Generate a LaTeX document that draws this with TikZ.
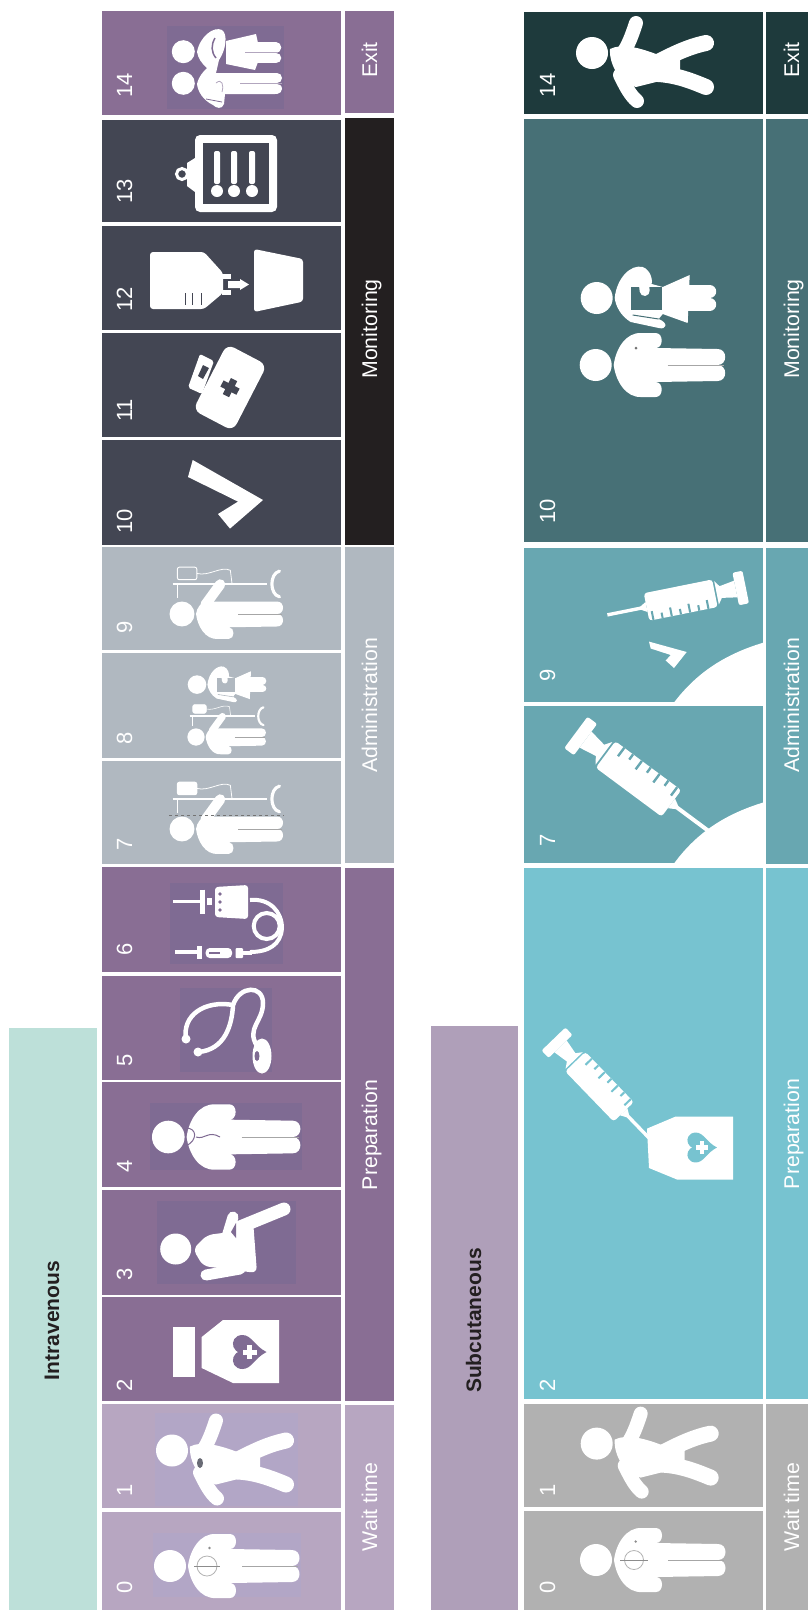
\documentclass[tikz,border=0pt]{standalone}
\usepackage{fontspec}
\setmainfont{Liberation Sans}
\usepackage{xcolor}
\usetikzlibrary{positioning}

\definecolor{ivtitle}{HTML}{BDE0D9}
\definecolor{ivwait}{HTML}{B7A6C1}
\definecolor{ivprep}{HTML}{896E94}
\definecolor{ivadmin}{HTML}{B0B8C0}
\definecolor{ivmon}{HTML}{434653}
\definecolor{ivmonlab}{HTML}{231F20}
\definecolor{ivpatch}{HTML}{7F6B93}
\definecolor{ivwaitpatch}{HTML}{B2A6C6}
\definecolor{sctitle}{HTML}{AF9FB9}
\definecolor{scwait}{HTML}{B1B1B1}
\definecolor{scprep}{HTML}{77C3D0}
\definecolor{scadmin}{HTML}{68A7B1}
\definecolor{scmon}{HTML}{477076}
\definecolor{scexit}{HTML}{1E3A3C}
\definecolor{inkline}{HTML}{231F20}

\newcommand{\personicon}[3]{
  \begin{scope}[shift={(#1,#2)},scale=#3]
    \fill[white] (0,0) circle (16);
    \fill[white] (18,0) .. controls (20,-16) and (30,-33) .. (46,-32) -- (60,-32)
      .. controls (68,-32) and (68,-17) .. (60,-17) -- (122,-16)
      .. controls (132,-16) and (132,0) .. (122,0)
      .. controls (132,0) and (132,16) .. (122,16) -- (60,17)
      .. controls (68,17) and (68,32) .. (60,32) -- (46,32)
      .. controls (30,33) and (20,16) .. (18,0) -- cycle;
    \draw[black!35,line width=#3*0.7pt] (72,0) -- (128,0);
  \end{scope}
}
\newcommand{\patienticon}[4]{
  \begin{scope}[shift={(#1,#2)},scale=#3]
    \draw[white,line width=#3*3.2pt] (-12,-38.5) -- (109,-38.5);
    \draw[white,line width=#3*4pt,line cap=round] (125,-55) .. controls (112,-52) and (112,-25) .. (125,-22);
    \draw[white,fill=#4,line width=#3*1.2pt,rounded corners=2] (-6,-60) rectangle (19,-44);
    \draw[white,line width=#3*1pt] (19,-52) .. controls (35,-48) and (50,-62) .. (62,-56) -- (64,-40);
    \draw[white,line width=#3*1pt] (-6,-38) -- (-6,-20);
    \fill[white] (0,0) circle (16);
    \fill[white] (18,0) .. controls (19,-8) and (24,-15) .. (32,-16) -- (122,-16)
      .. controls (132,-16) and (132,0) .. (122,0)
      .. controls (132,0) and (132,16) .. (122,16) -- (60,17)
      .. controls (68,17) and (68,32) .. (60,32) -- (46,32)
      .. controls (30,33) and (20,16) .. (18,0) -- cycle;
    \draw[white,line width=#3*13pt,line cap=round] (30,-12) -- (49,-38);
    \draw[black!35,line width=#3*0.7pt] (72,0) -- (128,0);
  \end{scope}
}
\newcommand{\nurseicon}[4]{
  \begin{scope}[shift={(#1,#2)},scale=#3]
    \fill[white] (0,0) circle (16);
    \fill[white] (18,0) .. controls (20,-20) and (34,-34) .. (46,-31)
      .. controls (54,-28) and (56,-18) .. (55,-14) -- (66,-11) -- (93,-23) -- (91,25)
      -- (66,16) -- (62,21) .. controls (72,25) and (70,32) .. (62,30)
      -- (34,24) .. controls (24,18) and (19,8) .. (18,0) -- cycle;
    \draw[white,line width=#3*13pt,line cap=round] (92,-6.5) -- (113,-6.5);
    \draw[white,line width=#3*13pt,line cap=round] (92,6.5) -- (113,6.5);
    \fill[#4] (34,-11) rectangle (65,12);
    \draw[white,line width=#3*10pt,line cap=round] (46,-24) -- (48,-7);
    \draw[#4,line width=#3*1pt] (36,17) -- (62,21);
  \end{scope}
}
\newcommand{\walkicon}[3]{
  \begin{scope}[shift={(#1,#2)},scale=#3]
    \fill[white] (0,0) circle (16);
    \fill[white] (18,-4) .. controls (30,-10) and (48,-5) .. (64,1) -- (88,4) -- (88,24) -- (64,29)
      -- (44,34) .. controls (28,30) and (17,12) .. (18,-4) -- cycle;
    \draw[white,line width=#3*14pt,line cap=round] (28,4) .. controls (36,-6) and (40,-18) .. (44,-30);
    \draw[white,line width=#3*14pt,line cap=round] (28,22) .. controls (34,34) and (38,42) .. (45,48);
    \draw[white,line width=#3*16pt,line cap=round] (66,9) .. controls (80,2) and (95,-6) .. (114,-10);
    \draw[white,line width=#3*16pt,line cap=round] (66,21) .. controls (82,22) and (95,26) .. (114,34);
  \end{scope}
}
\newcommand{\syringeicon}[5]{
  \begin{scope}[shift={(#1,#2)},rotate=#3,scale=#4]
    \fill[white,rounded corners=2] (-6,-19.5) rectangle (6,19.5);
    \fill[white] (6,-10) -- (24,-7) -- (29,-14) -- (29,14) -- (24,7) -- (6,10) -- cycle;
    \fill[white,rounded corners=3] (31,-16.5) rectangle (113,16.5);
    \fill[white] (113,-6) -- (120,-2) -- (120,2) -- (113,6) -- cycle;
    \draw[white,line width=#4*4pt] (118,0) -- (160,0);
    \draw[#5,line width=#4*2.4pt] (42,-16.5) -- (42,-6) (53,-16.5) -- (53,-10) (64,-16.5) -- (64,-6) (75,-16.5) -- (75,-10) (86,-16.5) -- (86,-6) (97,-16.5) -- (97,-10) (108,-16.5) -- (108,-6);
  \end{scope}
}
\newcommand{\heartmark}[4]{
  \begin{scope}[shift={(#1,#2)},scale=#3]
    \fill[#4] (17,0) .. controls (5,-6) and (2,-17) .. (-7,-17) .. controls (-15,-17) and (-18,-10) .. (-16,-5)
      .. controls (-15,-2) and (-12,0) .. (-11,0) .. controls (-12,0) and (-15,2) .. (-16,5)
      .. controls (-18,10) and (-15,17) .. (-7,17) .. controls (2,17) and (5,6) .. (17,0) -- cycle;
    \fill[white] (-7,-2.5) rectangle (7,2.5);
    \fill[white] (-2.5,-7) rectangle (2.5,7);
  \end{scope}
}

\begin{document}
\begin{tikzpicture}[
  x=1pt, y=-1pt,
  numtext/.style={text=white, rotate=90, anchor=base west, inner sep=0pt, font=\fontsize{22}{22}\selectfont},
  labtext/.style={text=white, rotate=90, anchor=base, inner sep=0pt, font=\fontsize{21.3}{22}\selectfont},
  headtext/.style={text=inkline, rotate=90, anchor=base, inner sep=0pt, font=\bfseries\fontsize{21}{21}\selectfont}
]
  \useasboundingbox (0,0) rectangle (808,1610);

  \fill[ivtitle] (9,1028) rectangle (97,1610);
  \fill[sctitle] (431,1026) rectangle (518,1610);
  \node[headtext] (ivhead) at (59,1320.5) {Intravenous};
  \node[headtext] (schead) at (481,1320.5) {Subcutaneous};

  \fill[ivprep] (102,11) rectangle (341,115);
  \fill[ivmon] (102,120) rectangle (341,222);
  \fill[ivmon] (102,226) rectangle (341,330);
  \fill[ivmon] (102,333) rectangle (341,436.7);
  \fill[ivmon] (102,440) rectangle (341,544.7);
  \fill[ivadmin] (102,547) rectangle (341,650);
  \fill[ivadmin] (102,653) rectangle (341,758);
  \fill[ivadmin] (102,761) rectangle (341,864);
  \fill[ivprep] (102,867) rectangle (341,971.5);
  \fill[ivprep] (102,976) rectangle (341,1080);
  \fill[ivprep] (102,1082) rectangle (341,1187);
  \fill[ivprep] (102,1190) rectangle (341,1294.5);
  \fill[ivprep] (102,1297) rectangle (341,1401);
  \fill[ivwait] (102,1404) rectangle (341,1508);
  \fill[ivwait] (102,1512) rectangle (341,1610);

  \fill[ivprep] (345,11) rectangle (394,113);
  \fill[ivmonlab] (345,118) rectangle (394,545);
  \fill[ivadmin] (345,547) rectangle (394,863);
  \fill[ivprep] (345,868) rectangle (394,1401);
  \fill[ivwait] (345,1405) rectangle (394,1610);

  \fill[ivpatch] (167,26) rectangle (284,109);
  \fill[ivpatch] (170,882.6) rectangle (283,963.5);
  \fill[ivpatch] (180,987.6) rectangle (272,1072);
  \fill[ivpatch] (150,1103) rectangle (302,1170);
  \fill[ivpatch] (157,1201) rectangle (296,1284);
  \fill[ivwaitpatch] (155,1412.6) rectangle (298,1505.6);
  \fill[ivwaitpatch] (153,1533) rectangle (301,1597);

  \node[numtext] (ivn14) at (132,98) {14};
  \node[numtext] (ivn13) at (132,204) {13};
  \node[numtext] (ivn12) at (132,312) {12};
  \node[numtext] (ivn11) at (132,422) {11};
  \node[numtext] (ivn10) at (132,534) {10};
  \node[numtext] (ivn9) at (132,634) {9};
  \node[numtext] (ivn8) at (132,745) {8};
  \node[numtext] (ivn7) at (132,851) {7};
  \node[numtext] (ivn6) at (132,956) {6};
  \node[numtext] (ivn5) at (132,1067) {5};
  \node[numtext] (ivn4) at (132,1173) {4};
  \node[numtext] (ivn3) at (132,1281) {3};
  \node[numtext] (ivn2) at (132,1392) {2};
  \node[numtext] (ivn1) at (132,1497) {1};
  \node[numtext] (ivn0) at (132,1594) {0};

  \node[labtext] (ivexit) at (377,60) {Exit};
  \node[labtext] (ivmonit) at (377,329) {Monitoring};
  \node[labtext] (ivadm) at (377,705.5) {Administration};
  \node[labtext] (ivpre) at (377,1135) {Preparation};
  \node[labtext] (ivwt) at (377,1507) {Wait time};

  \fill[scexit] (524,12) rectangle (763,114);
  \fill[scmon] (524,119) rectangle (763,542);
  \fill[scadmin] (524,548) rectangle (763,702);
  \fill[scadmin] (524,705.6) rectangle (763,863);
  \fill[scprep] (524,868) rectangle (763,1399);
  \fill[scwait] (524,1404) rectangle (763,1506.6);
  \fill[scwait] (524,1511) rectangle (763,1610);

  \fill[scexit] (766,12) rectangle (808,114);
  \fill[scmon] (766,119) rectangle (808,542);
  \fill[scadmin] (766,548) rectangle (808,863.7);
  \fill[scprep] (766,868) rectangle (808,1399);
  \fill[scwait] (766,1404) rectangle (808,1610);

  \fill[white] (763.5,642.6) .. controls (722,655) and (695,675) .. (674,702.5) -- (763.5,702.5) -- cycle;
  \fill[white] (763.5,802.4) .. controls (722,815) and (695,835) .. (674,863.5) -- (763.5,863.5) -- cycle;

  \node[numtext] (scn14) at (555,98) {14};
  \node[numtext] (scn10) at (555,523.5) {10};
  \node[numtext] (scn9) at (555,682) {9};
  \node[numtext] (scn7) at (555,847) {7};
  \node[numtext] (scn2) at (555,1392) {2};
  \node[numtext] (scn1) at (555,1497) {1};
  \node[numtext] (scn0) at (555,1594) {0};

  \node[labtext] (scexitl) at (799,60) {Exit};
  \node[labtext] (scmonit) at (799,329) {Monitoring};
  \node[labtext] (scadm) at (799,705.5) {Administration};
  \node[labtext] (scpre) at (799,1134) {Preparation};
  \node[labtext] (scwt) at (799,1507) {Wait time};

  \fill[white] (183.3,51.7) circle (11.5);
  \fill[white] (183.3,83.3) circle (11.5);
  \fill[white] (197,52) .. controls (200,36) and (214,26) .. (222,30) .. controls (228,34) and (226,50) .. (219,60)
    -- (216,73) -- (275,73) -- (275,94) -- (225,94) -- (224,104)
    .. controls (222,110) and (216,108) .. (213,105) .. controls (203,100) and (198,92) .. (197,84)
    .. controls (199,76) and (203,72) .. (207,68) .. controls (202,64) and (198,58) .. (197,52) -- cycle;
  \fill[white] (226,41) -- (256,34) -- (258,43) -- (258,62) -- (255,70) -- (226,64) -- cycle;
  \draw[white,line width=10.5pt,line cap=round] (256,47.5) -- (276,47.5);
  \draw[white,line width=10.5pt,line cap=round] (256,58) -- (276,58);
  \draw[white,line width=10pt,line cap=round] (274,78) -- (277,78);
  \draw[white,line width=10pt,line cap=round] (274,88.5) -- (277,88.5);
  \draw[ivpatch,line width=1.5pt] (215,38) .. controls (211,45) and (211,52) .. (216,58);
  \draw[ivpatch,line width=0.8pt] (206,99) -- (222,102);
  \draw[ivpatch!60!white,line width=0.8pt] (240,83.5) -- (282,83.5);
  \draw[ivpatch!60!white,line width=0.8pt] (245,52.5) -- (278,52.5);
  \draw[ivpatch!60!white,line width=0.8pt] (216,83) .. controls (222,78) and (224,85) .. (222,92);

  \fill[white,rounded corners=5] (195,135) rectangle (277,212);
  \fill[white] (187,163) -- (195,158) -- (195,192) -- (187,186) -- cycle;
  \draw[white,line width=3pt] (182,174) circle (5.5);
  \fill[ivmon] (203,143) rectangle (269,203.5);
  \fill[white,rounded corners=2] (214,151) rectangle (220,184);
  \fill[white,rounded corners=2] (231,151) rectangle (237,184);
  \fill[white,rounded corners=2] (249,151) rectangle (255,184);
  \fill[white] (217,191) circle (6);
  \fill[white] (234,191) circle (6);
  \fill[white] (252,191) circle (6);

  \fill[white,rounded corners=3] (150,252) -- (204,252) -- (223,273) -- (223,293) -- (204,309) -- (150,309) -- cycle;
  \fill[white] (222,274) rectangle (231,279);
  \fill[white] (222,290) rectangle (231,295);
  \fill[white] (228,281) -- (240,281) -- (240,279) -- (249,284.5) -- (240,290) -- (240,288) -- (228,288) -- cycle;
  \fill[white,rounded corners=3] (254,249) -- (303,259) -- (303,301.6) -- (254,312) -- cycle;
  \draw[ivmon,line width=0.8pt] (185,293) -- (185,304.5) (192.7,293) -- (192.7,304.5) (201,293) -- (201,304.5);

  \fill[white,rounded corners=8] (227,344) -- (267,365) -- (233,431) -- (193,410) -- cycle;
  \fill[white,rounded corners=2] (200,354) -- (214,361) -- (202,394) -- (188,387.6) -- cycle;
  \fill[ivmon] (203,365) -- (209,368) -- (203,379) -- (198,376) -- cycle;
  \begin{scope}[shift={(230,387.6)},rotate=-27]
    \fill[ivmon] (-9,-3.5) rectangle (9,3.5);
    \fill[ivmon] (-3.5,-9) rectangle (3.5,9);
  \end{scope}

  \fill[white] (192.7,460) -- (263,500) -- (230,528.6) -- (218,514) -- (238,501.6) -- (188,477) -- cycle;

  \patienticon{182}{614}{0.78}{ivadmin}
  \patienticon{196}{737}{0.54}{white}
  \nurseicon{197}{684.6}{0.58}{ivadmin}
  \patienticon{182}{829}{0.78}{white}
  \draw[black!55,line width=1.6pt,dashed] (169,815.5) -- (284,815.5);

  \draw[white,line width=3.5pt] (173,901.6) -- (200,901.6);
  \draw[white,line width=5pt] (202,889.5) -- (202,913.6);
  \fill[white] (207,898) rectangle (212,905);
  \fill[white,rounded corners=3] (215,887) -- (248,885) -- (248,919) -- (215,917) -- cycle;
  \fill[ivpatch] (220,894) circle (1.8) (220,902) circle (1.8) (220,910) circle (1.8);
  \draw[white,line width=4pt] (250,900) .. controls (270,898) and (282,912) .. (282,928) .. controls (281,945) and (268,952) .. (250,952);
  \draw[white,line width=4pt] (266.7,926) circle (13);
  \draw[white,line width=3.5pt] (175,952) -- (199,952);
  \draw[white,line width=5pt] (199,946) -- (199,959);
  \fill[white,rounded corners=4] (205.7,948) rectangle (232,958);
  \fill[ivpatch] (209,952) rectangle (220,954);
  \fill[white,rounded corners=1] (235.5,948) rectangle (243,958);
  \draw[white,line width=3.5pt] (243,953) -- (252,953);

  \draw[white,line width=4.5pt] (186,1039) .. controls (182,1015) and (205,1000) .. (233,1005) .. controls (232,1025) and (225,1050) .. (198,1052);
  \fill[white] (186,1039) circle (4.5) (198,1052) circle (4.5);
  \draw[white,line width=4.5pt] (233,1005) .. controls (240,985) and (263,985) .. (263,1003) .. controls (263,1022) and (246,1028) .. (257,1046);
  \draw[white,fill=white,line width=1pt] (262,1056) ellipse (9 and 17);
  \fill[ivpatch] (257,1056) ellipse (2.5 and 5);

  \personicon{168.3}{1137}{1.02}
  \draw[ivpatch,line width=1pt] (186,1128) .. controls (197,1128) and (198,1140) .. (186,1146);
  \draw[ivpatch,line width=1pt] (196,1137) .. controls (205,1140) and (208,1130) .. (220,1137);

  \fill[white] (175.7,1249) circle (15.5);
  \fill[white,rounded corners=6] (193,1249) -- (207,1235) -- (230,1232) -- (253,1220) -- (257,1273) -- (203,1266) -- cycle;
  \draw[white,line width=13pt,line cap=round] (240,1227) -- (284,1209);
  \draw[white,line width=11pt,line cap=round] (226,1240) -- (233,1217);
  \draw[white,line width=11pt,line cap=round] (206,1275) -- (240,1269);
  \fill[ivpatch] (231,1232) -- (236,1223) -- (236,1238) -- cycle;

  \fill[white] (172.7,1326.5) rectangle (195,1376.5);
  \fill[white] (201.7,1337) -- (223,1320) -- (279,1320) -- (279,1383) -- (233,1383) -- (201.7,1368) -- cycle;
  \heartmark{249.5}{1352}{1}{ivpatch}

  \walkicon{172}{1450.5}{1}
  \fill[ivmon!80!white] (200,1463) ellipse (3 and 5);
  \personicon{170}{1566}{1}
  \draw[black!30,line width=0.8pt] (207,1566) circle (10);
  \draw[black!45,line width=0.8pt] (194,1566) -- (220,1566);
  \fill[black!45] (209.5,1548) circle (1.3);

  \walkicon{592}{53}{1}
  \personicon{595.7}{365}{1}
  \fill[black!55] (636,348) circle (1.5);
  \nurseicon{596.7}{298}{1}{scmon}

  \syringeicon{740.7}{588}{191.4}{0.85}{scadmin}
  \fill[white] (649,641.6) -- (686.7,652) -- (674,668) -- (665.7,660.5) -- (670.7,655) -- (650.7,648.5) -- cycle;
  \syringeicon{580.7}{736}{-36.6}{1}{scadmin}

  \syringeicon{557}{1042.7}{-46}{0.85}{scprep}
  \fill[white] (647,1128.6) -- (675.7,1116.5) -- (733,1116.5) -- (733,1179.5) -- (677,1179.5) -- (649,1168) -- cycle;
  \heartmark{702}{1147.5}{0.88}{scprep}

  \walkicon{596.7}{1443.6}{1}
  \personicon{596}{1560}{1}
  \draw[black!30,line width=0.8pt] (634,1560) circle (9.5);
  \draw[black!45,line width=0.8pt] (620,1560) -- (648,1560);
  \fill[black!45] (635.7,1541.5) circle (1.3);
\end{tikzpicture}
\end{document}
